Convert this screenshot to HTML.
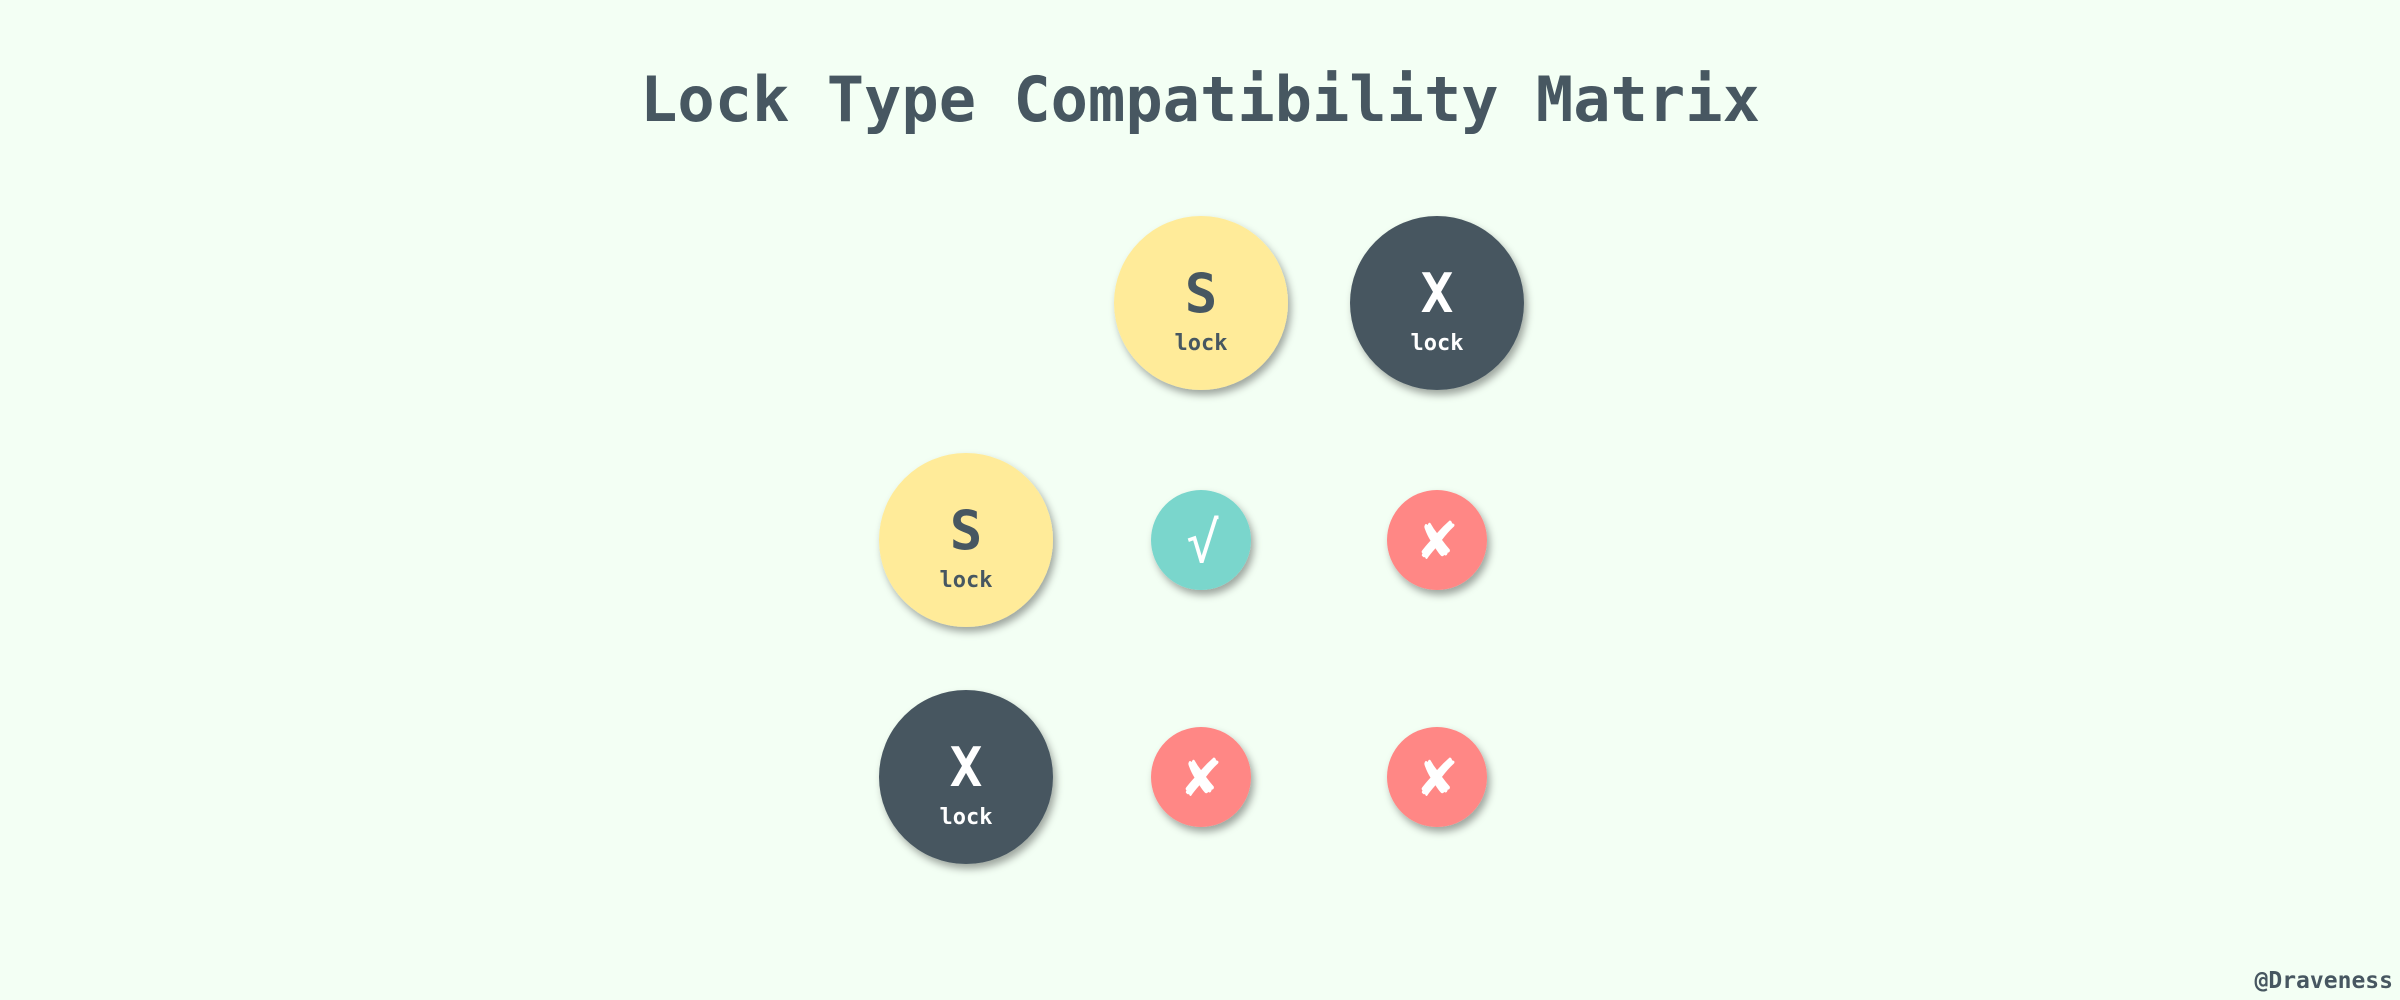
<!DOCTYPE html>
<html><head><meta charset="utf-8"><style>
html,body{margin:0;padding:0;background:#F3FFF4;}
svg{display:block}
</style></head><body>
<svg width="2400" height="1000" viewBox="0 0 2400 1000">
<defs>
<filter id="sh" x="-30%" y="-30%" width="160%" height="160%">
<feDropShadow dx="3" dy="5" stdDeviation="4" flood-color="#000" flood-opacity="0.35"/>
</filter>
</defs>
<rect width="2400" height="1000" fill="#F3FFF4"/>
<text x="1200" y="121" text-anchor="middle" font-family="DejaVu Sans Mono, monospace" font-size="62" font-weight="bold" fill="#475761">Lock Type Compatibility Matrix</text>

<g>
<circle cx="1201" cy="303" r="87" fill="#FFEB99" filter="url(#sh)"/>
<text x="1201" y="312" text-anchor="middle" font-family="DejaVu Sans Mono, monospace" font-size="54" font-weight="bold" fill="#475761">S</text>
<text x="1201" y="350" text-anchor="middle" font-family="DejaVu Sans Mono, monospace" font-size="22" font-weight="bold" fill="#475761">lock</text>
</g>
<g>
<circle cx="1437" cy="303" r="87" fill="#475761" filter="url(#sh)"/>
<text x="1437" y="312" text-anchor="middle" font-family="DejaVu Sans Mono, monospace" font-size="54" font-weight="bold" fill="#fff">X</text>
<text x="1437" y="350" text-anchor="middle" font-family="DejaVu Sans Mono, monospace" font-size="22" font-weight="bold" fill="#fff">lock</text>
</g>
<g>
<circle cx="966" cy="540" r="87" fill="#FFEB99" filter="url(#sh)"/>
<text x="966" y="549" text-anchor="middle" font-family="DejaVu Sans Mono, monospace" font-size="54" font-weight="bold" fill="#475761">S</text>
<text x="966" y="587" text-anchor="middle" font-family="DejaVu Sans Mono, monospace" font-size="22" font-weight="bold" fill="#475761">lock</text>
</g>
<g>
<circle cx="966" cy="777" r="87" fill="#475761" filter="url(#sh)"/>
<text x="966" y="786" text-anchor="middle" font-family="DejaVu Sans Mono, monospace" font-size="54" font-weight="bold" fill="#fff">X</text>
<text x="966" y="824" text-anchor="middle" font-family="DejaVu Sans Mono, monospace" font-size="22" font-weight="bold" fill="#fff">lock</text>
</g>

<g>
<circle cx="1201" cy="540" r="50" fill="#7AD6CC" filter="url(#sh)"/>
<text x="1203" y="562" text-anchor="middle" font-family="DejaVu Sans Mono, sans-serif" font-size="56" fill="#fff">√</text>
</g>
<g>
<circle cx="1437" cy="540" r="50" fill="#FF8785" filter="url(#sh)"/>
<text x="1437" y="559" text-anchor="middle" font-family="DejaVu Sans, sans-serif" font-size="52" font-weight="bold" fill="#fff">✘</text>
</g>
<g>
<circle cx="1201" cy="777" r="50" fill="#FF8785" filter="url(#sh)"/>
<text x="1201" y="796" text-anchor="middle" font-family="DejaVu Sans, sans-serif" font-size="52" font-weight="bold" fill="#fff">✘</text>
</g>
<g>
<circle cx="1437" cy="777" r="50" fill="#FF8785" filter="url(#sh)"/>
<text x="1437" y="796" text-anchor="middle" font-family="DejaVu Sans, sans-serif" font-size="52" font-weight="bold" fill="#fff">✘</text>
</g>

<text x="2393" y="988" text-anchor="end" font-family="DejaVu Sans Mono, monospace" font-size="23" font-weight="bold" fill="#475761">@Draveness</text>
</svg>
</body></html>
